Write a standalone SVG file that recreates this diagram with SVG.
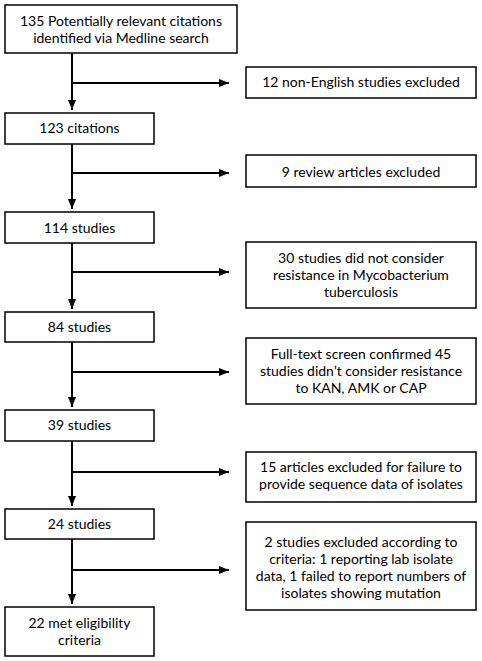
<svg xmlns="http://www.w3.org/2000/svg" width="482" height="661" viewBox="0 0 482 661">
<style>
.box{fill:#fff;stroke:#000;stroke-width:1.5}
text{font-family:Lato,"Liberation Sans",sans-serif;font-size:14px;fill:#000;text-anchor:middle}
.ln{stroke:#000;stroke-width:2;fill:none}
</style>
<defs>
<marker id="ah" viewBox="0 0 10 10" refX="10" refY="5" markerWidth="10" markerHeight="10" markerUnits="userSpaceOnUse" orient="auto">
<path d="M0,1 L10,5 L0,9 Z" fill="#000"/>
</marker>
</defs>
<rect width="482" height="661" fill="#fff"/>
<g id="connectors">
<path class="ln" d="M72,53 V110" marker-end="url(#ah)"/>
<path class="ln" d="M72,83 H229" marker-end="url(#ah)"/>
<path class="ln" d="M72,144 V209" marker-end="url(#ah)"/>
<path class="ln" d="M72,173 H229" marker-end="url(#ah)"/>
<path class="ln" d="M72,243 V309" marker-end="url(#ah)"/>
<path class="ln" d="M72,272 H229" marker-end="url(#ah)"/>
<path class="ln" d="M72,342 V407" marker-end="url(#ah)"/>
<path class="ln" d="M72,372 H229" marker-end="url(#ah)"/>
<path class="ln" d="M72,441 V506" marker-end="url(#ah)"/>
<path class="ln" d="M72,472 H229" marker-end="url(#ah)"/>
<path class="ln" d="M72,539 V604" marker-end="url(#ah)"/>
<path class="ln" d="M72,570 H229" marker-end="url(#ah)"/>
</g>
<g id="n1"><rect class="box" x="5" y="5" width="232" height="48"/><text x="121" y="26">135 Potentially relevant citations</text><text x="121" y="43">identified via Medline search</text></g>
<g id="n2"><rect class="box" x="5" y="113" width="149" height="31"/><text x="79.5" y="133">123 citations</text></g>
<g id="n3"><rect class="box" x="5" y="212" width="149" height="31"/><text x="79.5" y="233">114 studies</text></g>
<g id="n4"><rect class="box" x="5" y="312" width="149" height="30"/><text x="79.5" y="332">84 studies</text></g>
<g id="n5"><rect class="box" x="5" y="410" width="149" height="31"/><text x="79.5" y="430">39 studies</text></g>
<g id="n6"><rect class="box" x="5" y="509" width="149" height="30"/><text x="79.5" y="529">24 studies</text></g>
<g id="n7"><rect class="box" x="5" y="607" width="149" height="49"/><text x="79.5" y="628">22 met eligibility</text><text x="79.5" y="645">criteria</text></g>
<g id="e1"><rect class="box" x="246" y="67" width="230" height="31"/><text x="361" y="87">12 non-English studies excluded</text></g>
<g id="e2"><rect class="box" x="246" y="155" width="230" height="32"/><text x="361" y="177">9 review articles excluded</text></g>
<g id="e3"><rect class="box" x="246" y="242" width="230" height="66"/><text x="361" y="263">30 studies did not consider</text><text x="361" y="280">resistance in Mycobacterium</text><text x="361" y="297">tuberculosis</text></g>
<g id="e4"><rect class="box" x="246" y="338" width="230" height="66"/><text x="361" y="359">Full-text screen confirmed 45</text><text x="361" y="376">studies didn’t consider resistance</text><text x="361" y="393">to KAN, AMK or CAP</text></g>
<g id="e5"><rect class="box" x="246" y="452" width="230" height="50"/><text x="361" y="472">15 articles excluded for failure to</text><text x="361" y="489">provide sequence data of isolates</text></g>
<g id="e6"><rect class="box" x="246" y="522" width="230" height="88"/><text x="361" y="547">2 studies excluded according to</text><text x="361" y="564">criteria: 1 reporting lab isolate</text><text x="361" y="581">data, 1 failed to report numbers of</text><text x="361" y="598">isolates showing mutation</text></g>
</svg>
